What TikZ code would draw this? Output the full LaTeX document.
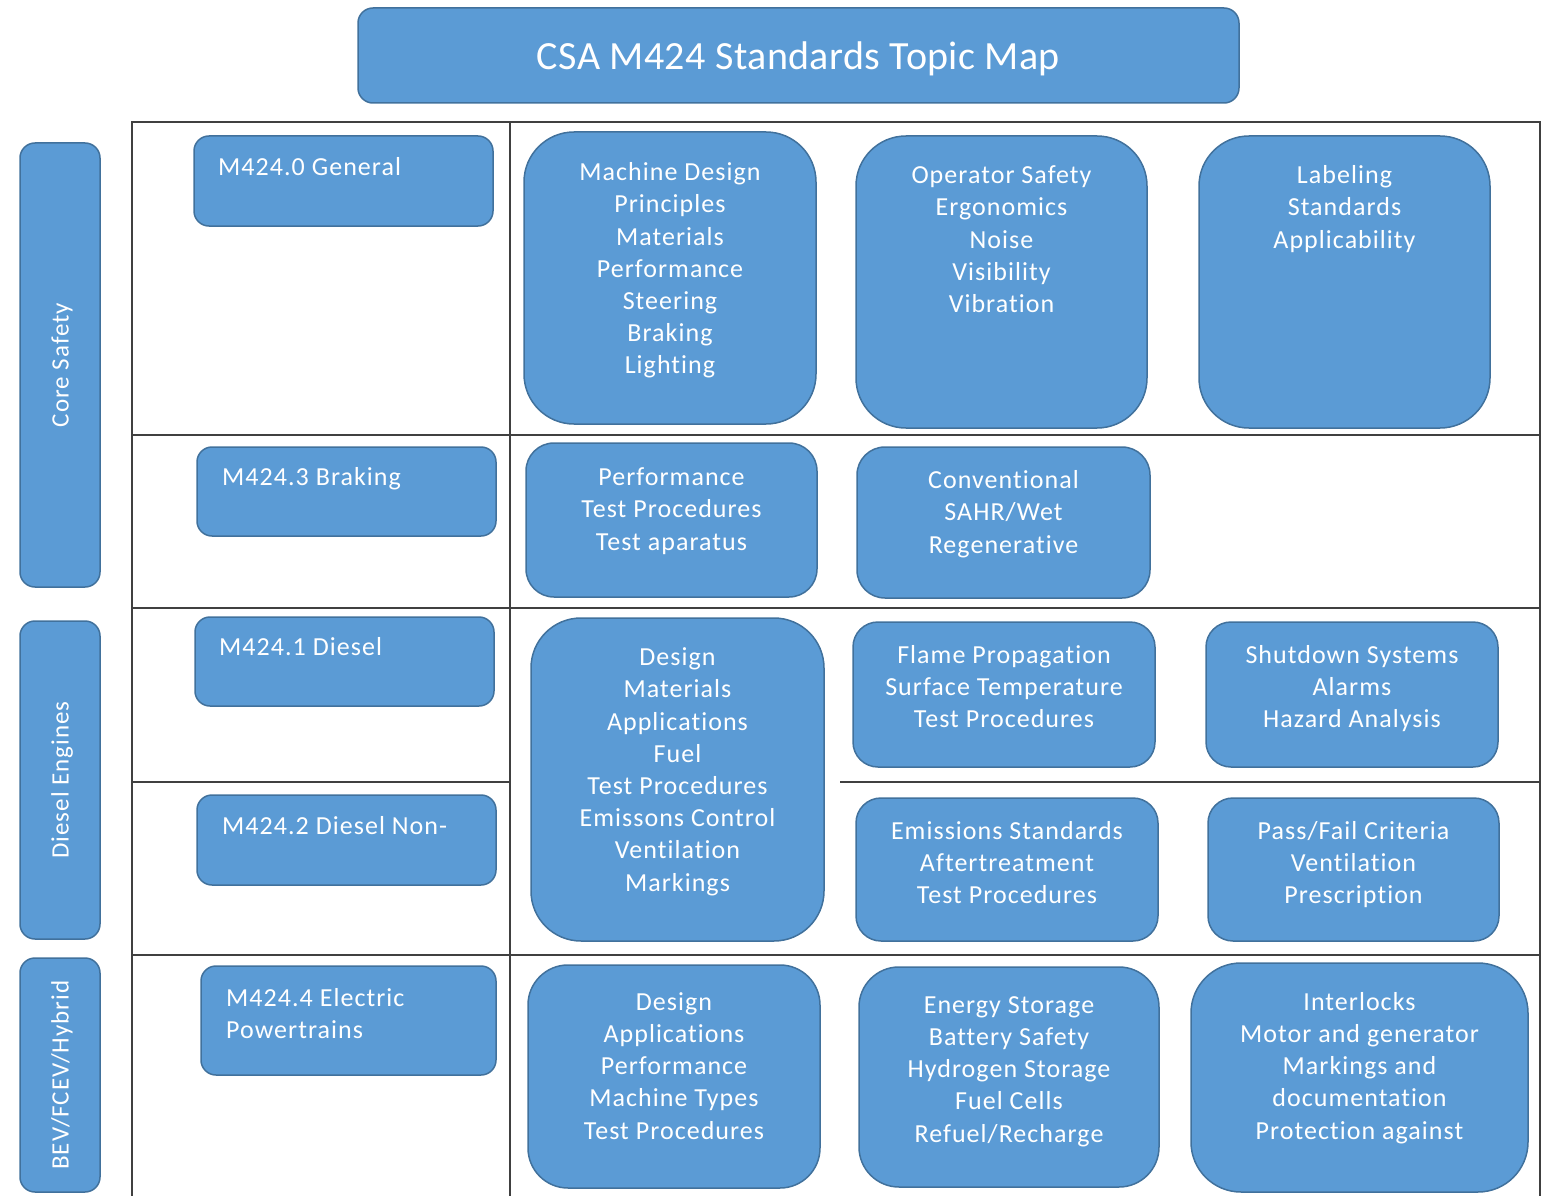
\documentclass[tikz,border=0pt]{standalone}
\usepackage{fontspec}
\setmainfont{Carlito}
\newfontfamily\bodyfont{Carlito}[LetterSpace=4,Ligatures=NoCommon]
\newfontfamily\titlefont{Carlito}[LetterSpace=1,Ligatures=NoCommon]
\definecolor{boxfill}{HTML}{5B9BD5}
\definecolor{boxedge}{HTML}{41719C}
\definecolor{gridline}{HTML}{404040}
\begin{document}
\begin{tikzpicture}[x=1pt,y=-1pt,
  box/.style={draw=boxedge, line width=1.5pt, fill=boxfill, rectangle, inner sep=0pt},
  txt/.style={anchor=north, inner sep=0pt, align=center, text=white,
    font=\bodyfont\fontsize{26}{32.2}\selectfont},
  ltxt/.style={anchor=north west, inner sep=0pt, align=left, text=white,
    font=\bodyfont\fontsize{26}{32.2}\selectfont},
  side/.style={rotate=90, inner sep=0pt, text=white, font=\bodyfont\fontsize{25}{30}\selectfont},
  grid/.style={draw=gridline, line width=1.5pt}]
\useasboundingbox (0,0) rectangle (1543,1196);

% table frame
\draw[grid] (132,1196) -- (132,122) -- (1540,122) -- (1540,1196);
\draw[grid] (510,122) -- (510,1196);
\draw[grid] (132,435) -- (1540,435);
\draw[grid] (132,608) -- (1540,608);
\draw[grid] (132,782) -- (510,782);
\draw[grid] (840,782) -- (1540,782);
\draw[grid] (132,955) -- (1540,955);

% title
\node[box, rounded corners=15pt, minimum width=881pt, minimum height=95pt] (title) at (798.5,55.5) {};
\node[inner sep=0pt, text=white, font=\titlefont\fontsize{40}{48}\selectfont] (titletxt) at (798.5,59) {CSA M424 Standards Topic Map};

% row group labels
\node[box, rounded corners=15pt, minimum width=80pt, minimum height=444pt] (core) at (60,365) {};
\node[side] (coretxt) at (62,365) {Core Safety};
\node[box, rounded corners=15pt, minimum width=80pt, minimum height=318pt] (diesel) at (60,780) {};
\node[side] (dieseltxt) at (62,780) {Diesel Engines};
\node[box, rounded corners=15pt, minimum width=80pt, minimum height=234pt] (bev) at (60,1075) {};
\node[side] (bevtxt) at (62,1075) {BEV/FCEV/Hybrid};

% standard parts
\node[box, rounded corners=15pt, minimum width=299pt, minimum height=90pt] (gen) at (343.5,181) {};
\node[ltxt] (gentxt) at (218,152.6) {\strut M424.0 General};
\node[box, rounded corners=15pt, minimum width=299pt, minimum height=89pt] (brk) at (346.5,491.5) {};
\node[ltxt] (brktxt) at (222,462.6) {\strut M424.3 Braking};
\node[box, rounded corners=15pt, minimum width=299pt, minimum height=89pt] (dsl) at (344.5,661.5) {};
\node[ltxt] (dsltxt) at (219,632.6) {\strut M424.1 Diesel};
\node[box, rounded corners=15pt, minimum width=299pt, minimum height=90pt] (dnon) at (346.5,840) {};
\node[ltxt] (dnontxt) at (222,811.6) {\strut M424.2 Diesel Non-};
\node[box, rounded corners=15pt, minimum width=295pt, minimum height=109pt] (elec) at (348.5,1020.5) {};
\node[ltxt] (electxt) at (226,983.6) {\strut M424.4 Electric\\Powertrains};

% core safety topics
\node[box, rounded corners=50pt, minimum width=292pt, minimum height=292pt] (mach) at (670,278) {};
\node[txt] (machtxt) at (670,158) {\strut Machine Design\\Principles\\Materials\\Performance\\Steering\\Braking\\Lighting};
\node[box, rounded corners=50pt, minimum width=291pt, minimum height=292pt] (oper) at (1001.5,282) {};
\node[txt] (opertxt) at (1001.5,161) {\strut Operator Safety\\Ergonomics\\Noise\\Visibility\\Vibration};
\node[box, rounded corners=50pt, minimum width=291pt, minimum height=292pt] (lab) at (1344.5,282) {};
\node[txt] (labtxt) at (1344.5,161) {\strut Labeling\\Standards\\Applicability};

% braking topics
\node[box, rounded corners=28pt, minimum width=291pt, minimum height=154pt] (perf) at (671.5,520) {};
\node[txt] (perftxt) at (671.5,463) {\strut Performance\\Test Procedures\\Test aparatus};
\node[box, rounded corners=28pt, minimum width=293pt, minimum height=151pt] (conv) at (1003.5,522.5) {};
\node[txt] (convtxt) at (1003.5,466) {\strut Conventional\\SAHR/Wet\\Regenerative};

% diesel topics
\node[box, rounded corners=50pt, minimum width=293pt, minimum height=323pt] (ddes) at (677.5,779.5) {};
\node[txt] (ddestxt) at (677.5,643) {\strut Design\\Materials\\Applications\\Fuel\\Test Procedures\\Emissons Control\\Ventilation\\Markings};
\node[box, rounded corners=25pt, minimum width=302pt, minimum height=145pt] (flame) at (1004,694.5) {};
\node[txt] (flametxt) at (1004,640.5) {\strut Flame Propagation\\Surface Temperature\\Test Procedures};
\node[box, rounded corners=25pt, minimum width=292pt, minimum height=145pt] (shut) at (1352,694.5) {};
\node[txt] (shuttxt) at (1352,640.5) {\strut Shutdown Systems\\Alarms\\Hazard Analysis};
\node[box, rounded corners=25pt, minimum width=302pt, minimum height=143pt] (emis) at (1007,869.5) {};
\node[txt] (emistxt) at (1007,816.5) {\strut Emissions Standards\\Aftertreatment\\Test Procedures};
\node[box, rounded corners=25pt, minimum width=291pt, minimum height=143pt] (pass) at (1353.5,869.5) {};
\node[txt] (passtxt) at (1353.5,816.5) {\strut Pass/Fail Criteria\\Ventilation\\Prescription};

% electric powertrain topics
\node[box, rounded corners=40pt, minimum width=292pt, minimum height=223pt] (edes) at (674,1076.5) {};
\node[txt] (edestxt) at (674,987.5) {\strut Design\\Applications\\Performance\\Machine Types\\Test Procedures};
\node[box, rounded corners=40pt, minimum width=300pt, minimum height=220pt] (energy) at (1009,1077) {};
\node[txt] (energytxt) at (1009,990.5) {\strut Energy Storage\\Battery Safety\\Hydrogen Storage\\Fuel Cells\\Refuel/Recharge};
\node[box, rounded corners=50pt, minimum width=337pt, minimum height=229pt] (inter) at (1359.5,1077.5) {};
\node[txt] (intertxt) at (1359.5,987.5) {\strut Interlocks\\Motor and generator\\Markings and\\documentation\\Protection against};
\end{tikzpicture}
\end{document}
